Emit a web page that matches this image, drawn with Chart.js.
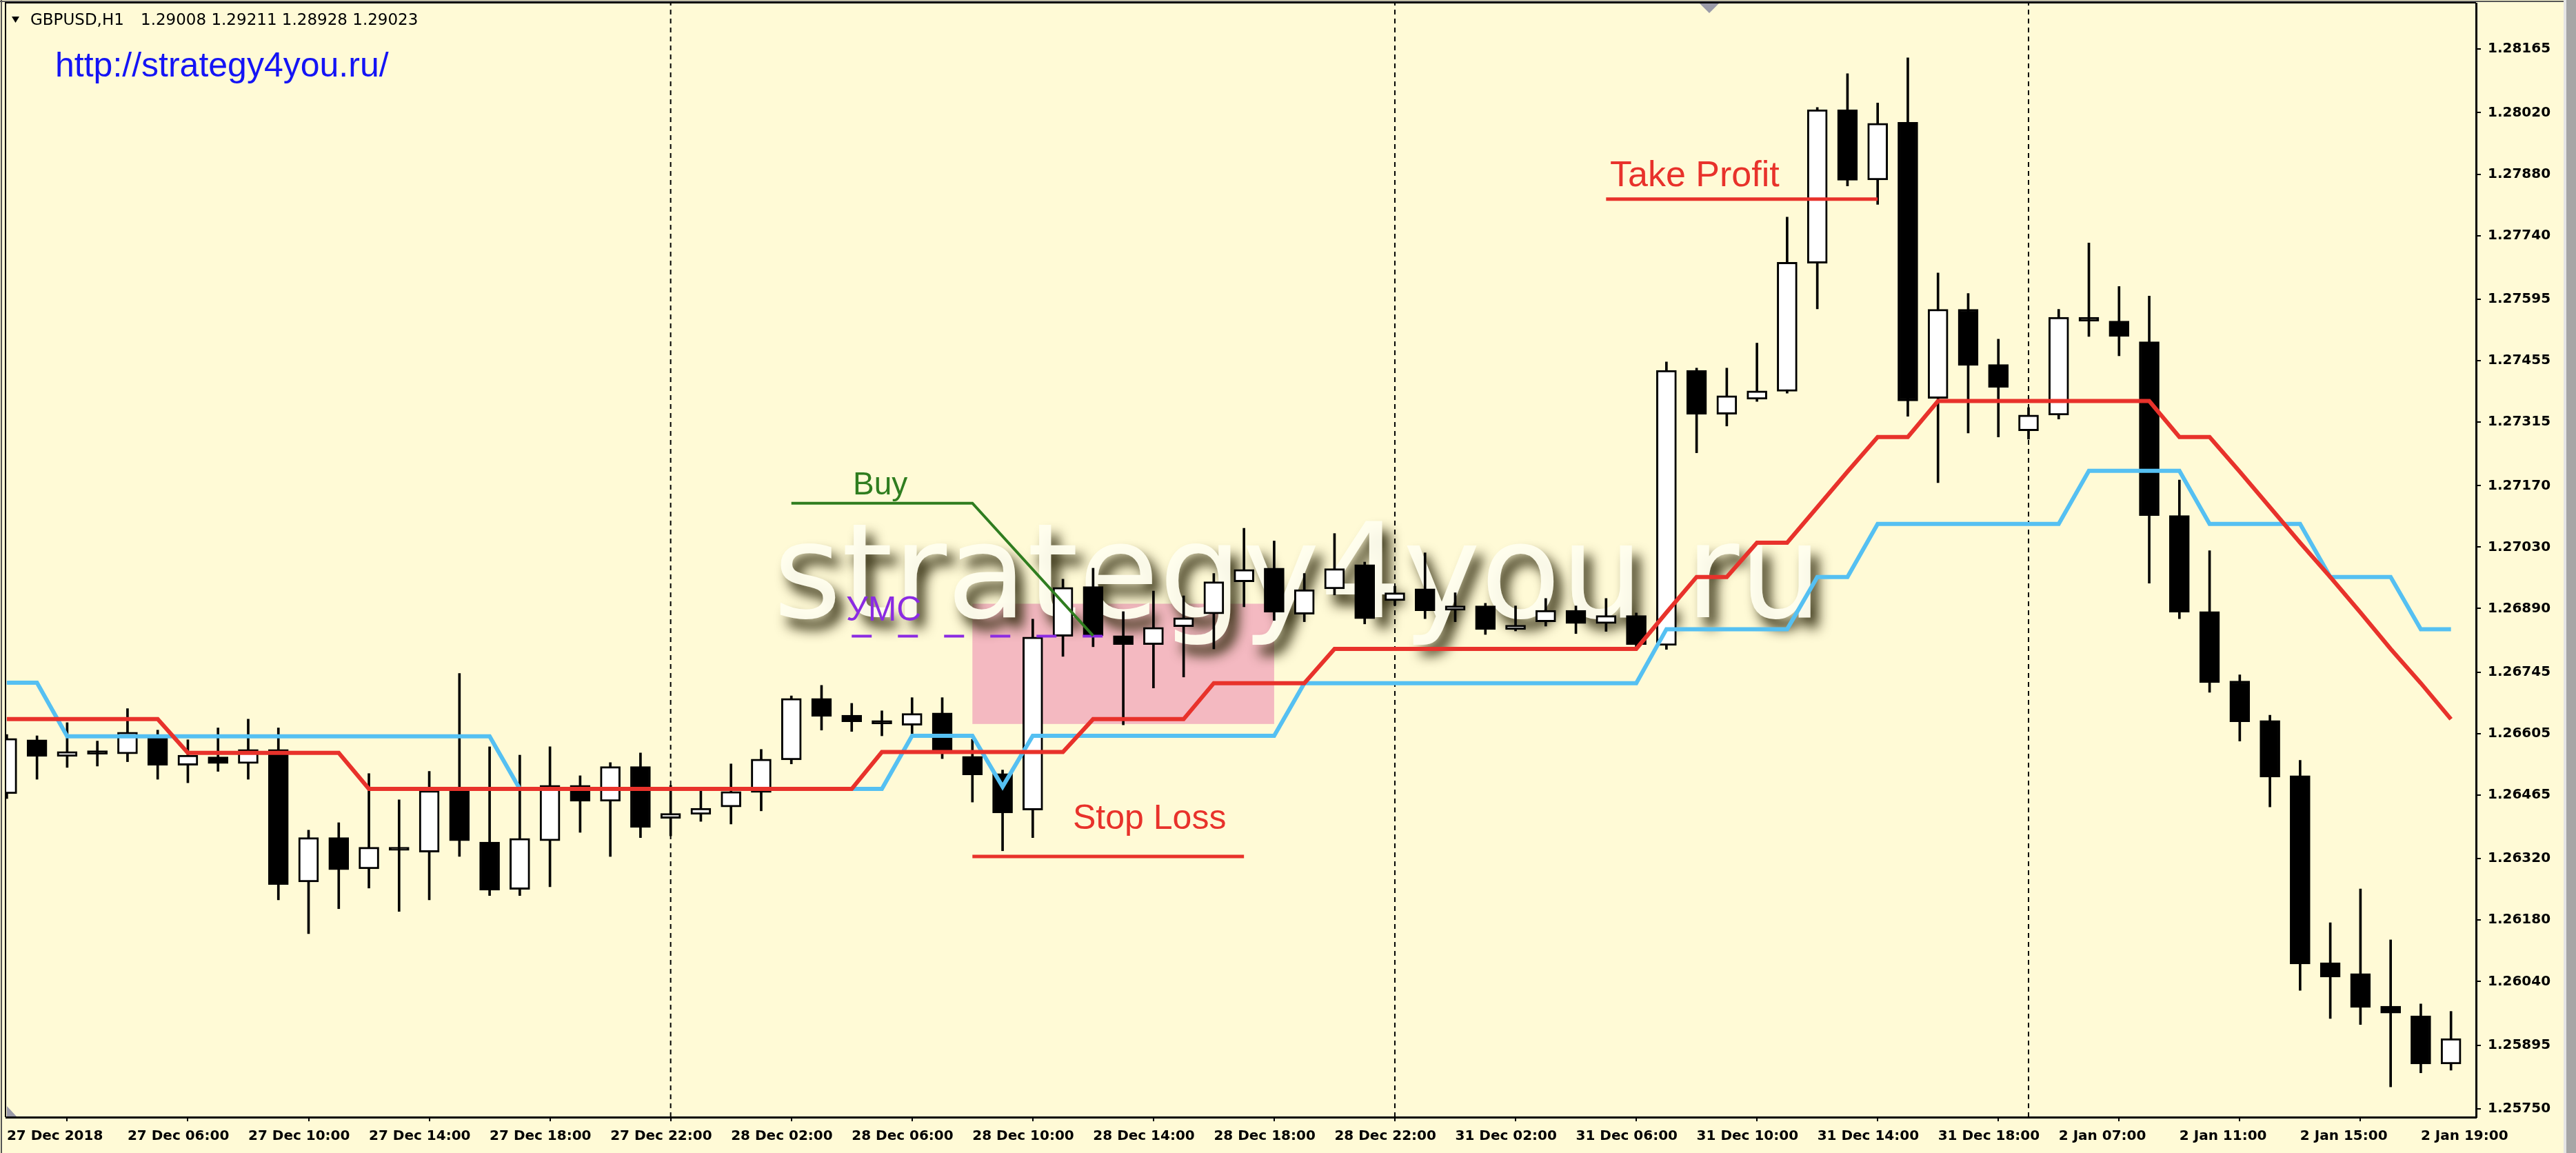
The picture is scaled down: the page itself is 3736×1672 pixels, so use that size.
<!DOCTYPE html>
<html>
<head>
<meta charset="utf-8">
<script src="https://cdn.jsdelivr.net/npm/chart.js@4.4.1/dist/chart.umd.min.js"></script>
<style>
  html, body { margin: 0; padding: 0; background: #fffad6; }
  #wrap { width: 3736px; height: 1672px; }
</style>
</head>
<body>
<div id="wrap"><canvas id="chart"></canvas></div>
<script>
// GBPUSD H1 candles
const opens = [
  1.26468, 1.26591, 1.26553, 1.26566, 1.26559, 1.26599, 1.26533, 1.26552, 1.26537, 1.26569,
  1.26267, 1.26368, 1.26297, 1.26346, 1.26335, 1.26476, 1.26358, 1.26250, 1.26361, 1.26487,
  1.26451, 1.26530, 1.26412, 1.26421, 1.26438, 1.26471, 1.26545, 1.26685, 1.26647, 1.26635,
  1.26624, 1.26652, 1.26553, 1.26514, 1.26431, 1.26827, 1.26940, 1.26828, 1.26808, 1.26849,
  1.26878, 1.26951, 1.26982, 1.26877, 1.26935, 1.26990, 1.26908, 1.26935, 1.26886, 1.26896,
  1.26842, 1.26860, 1.26886, 1.26856, 1.26874, 1.26806, 1.27433, 1.27333, 1.27367, 1.27385,
  1.27677, 1.28027, 1.27867, 1.27998, 1.27369, 1.27572, 1.27446, 1.27295, 1.27331, 1.27554,
  1.27545, 1.27498, 1.27102, 1.26883, 1.26725, 1.26635, 1.26509, 1.26083, 1.26058, 1.25984,
  1.25962, 1.25852
];
const highs = [
  1.26603, 1.26600, 1.26630, 1.26588, 1.26662, 1.26613, 1.26591, 1.26618, 1.26638, 1.26618,
  1.26385, 1.26402, 1.26514, 1.26454, 1.26519, 1.26742, 1.26575, 1.26556, 1.26575, 1.26509,
  1.26539, 1.26561, 1.26487, 1.26475, 1.26536, 1.26569, 1.26691, 1.26715, 1.26674, 1.26657,
  1.26687, 1.26687, 1.26592, 1.26522, 1.26866, 1.26957, 1.26982, 1.26883, 1.26930, 1.26919,
  1.26970, 1.27073, 1.27044, 1.26970, 1.27061, 1.26996, 1.26941, 1.27017, 1.26926, 1.26902,
  1.26896, 1.26913, 1.26896, 1.26913, 1.26880, 1.27452, 1.27438, 1.27438, 1.27495, 1.27782,
  1.28032, 1.28109, 1.28042, 1.28145, 1.27655, 1.27608, 1.27504, 1.27348, 1.27572, 1.27723,
  1.27624, 1.27602, 1.27183, 1.27022, 1.26739, 1.26647, 1.26544, 1.26174, 1.26251, 1.26135,
  1.25989, 1.25972
];
const lows = [
  1.26457, 1.26501, 1.26528, 1.26531, 1.26541, 1.26501, 1.26493, 1.26519, 1.26501, 1.26226,
  1.26149, 1.26206, 1.26253, 1.26200, 1.26226, 1.26325, 1.26236, 1.26236, 1.26256, 1.26380,
  1.26325, 1.26368, 1.26372, 1.26405, 1.26399, 1.26429, 1.26536, 1.26613, 1.26610, 1.26600,
  1.26599, 1.26548, 1.26449, 1.26338, 1.26368, 1.26781, 1.26803, 1.26625, 1.26709, 1.26734,
  1.26798, 1.26894, 1.26863, 1.26860, 1.26921, 1.26855, 1.26897, 1.26867, 1.26860, 1.26831,
  1.26839, 1.26850, 1.26833, 1.26838, 1.26800, 1.26797, 1.27245, 1.27306, 1.27362, 1.27381,
  1.27573, 1.27853, 1.27811, 1.27328, 1.27177, 1.27290, 1.27281, 1.27276, 1.27322, 1.27510,
  1.27466, 1.26948, 1.26867, 1.26699, 1.26588, 1.26438, 1.26020, 1.25956, 1.25942, 1.25800,
  1.25832, 1.25838
];
const closes = [
  1.26594, 1.26553, 1.26564, 1.26558, 1.26608, 1.26533, 1.26556, 1.26537, 1.26569, 1.26261,
  1.26368, 1.26295, 1.26346, 1.26339, 1.26475, 1.26361, 1.26248, 1.26366, 1.26487, 1.26451,
  1.26530, 1.26391, 1.26423, 1.26435, 1.26473, 1.26547, 1.26685, 1.26644, 1.26632, 1.26627,
  1.26651, 1.26566, 1.26511, 1.26424, 1.26825, 1.26938, 1.26828, 1.26808, 1.26847, 1.26869,
  1.26951, 1.26979, 1.26882, 1.26933, 1.26981, 1.26867, 1.26926, 1.26885, 1.26896, 1.26842,
  1.26852, 1.26886, 1.26856, 1.26874, 1.26808, 1.27433, 1.27333, 1.27375, 1.27386, 1.27679,
  1.28027, 1.27866, 1.27996, 1.27363, 1.27572, 1.27444, 1.27394, 1.27331, 1.27554, 1.27545,
  1.27510, 1.27102, 1.26882, 1.26721, 1.26632, 1.26506, 1.26080, 1.26050, 1.25981, 1.25968,
  1.25852, 1.25910
];

// indicator lines (red = slow, blue = fast)
const redLine = [
  1.26638, 1.26638, 1.26638, 1.26638, 1.26638, 1.26638, 1.26561, 1.26561, 1.26561, 1.26561,
  1.26561, 1.26561, 1.26479, 1.26479, 1.26479, 1.26479, 1.26479, 1.26479, 1.26479, 1.26479,
  1.26479, 1.26479, 1.26479, 1.26479, 1.26479, 1.26479, 1.26479, 1.26479, 1.26479, 1.26563,
  1.26563, 1.26563, 1.26563, 1.26563, 1.26563, 1.26563, 1.26638, 1.26638, 1.26638, 1.26638,
  1.26720, 1.26720, 1.26720, 1.26720, 1.26798, 1.26798, 1.26798, 1.26798, 1.26798, 1.26798,
  1.26798, 1.26798, 1.26798, 1.26798, 1.26798, 1.26881, 1.26962, 1.26962, 1.27040, 1.27040,
  1.27121, 1.27202, 1.27281, 1.27281, 1.27363, 1.27363, 1.27363, 1.27363, 1.27363, 1.27363,
  1.27363, 1.27363, 1.27281, 1.27281, 1.27202, 1.27121, 1.27040, 1.26962, 1.26881, 1.26798,
  1.26720, 1.26638
];
const blueLine = [
  1.26721, 1.26721, 1.26599, 1.26599, 1.26599, 1.26599, 1.26599, 1.26599, 1.26599, 1.26599,
  1.26599, 1.26599, 1.26599, 1.26599, 1.26599, 1.26599, 1.26599, 1.26479, 1.26479, 1.26479,
  1.26479, 1.26479, 1.26479, 1.26479, 1.26479, 1.26479, 1.26479, 1.26479, 1.26479, 1.26479,
  1.26600, 1.26600, 1.26600, 1.26484, 1.26600, 1.26600, 1.26600, 1.26600, 1.26600, 1.26600,
  1.26600, 1.26600, 1.26600, 1.26720, 1.26720, 1.26720, 1.26720, 1.26720, 1.26720, 1.26720,
  1.26720, 1.26720, 1.26720, 1.26720, 1.26720, 1.26843, 1.26843, 1.26843, 1.26843, 1.26843,
  1.26962, 1.26962, 1.27083, 1.27083, 1.27083, 1.27083, 1.27083, 1.27083, 1.27083, 1.27204,
  1.27204, 1.27204, 1.27204, 1.27083, 1.27083, 1.27083, 1.27083, 1.26962, 1.26962, 1.26962,
  1.26843, 1.26843
];

const xTickLabels = [
  "27 Dec 2018", "27 Dec 06:00", "27 Dec 10:00", "27 Dec 14:00", "27 Dec 18:00",
  "27 Dec 22:00", "28 Dec 02:00", "28 Dec 06:00", "28 Dec 10:00", "28 Dec 14:00",
  "28 Dec 18:00", "28 Dec 22:00", "31 Dec 02:00", "31 Dec 06:00", "31 Dec 10:00",
  "31 Dec 14:00", "31 Dec 18:00", "2 Jan 07:00", "2 Jan 11:00", "2 Jan 15:00", "2 Jan 19:00"
];
const yTickValues = [
  1.28165, 1.28020, 1.27880, 1.27740, 1.27595, 1.27455, 1.27315, 1.27170, 1.27030,
  1.26890, 1.26745, 1.26605, 1.26465, 1.26320, 1.26180, 1.26040, 1.25895, 1.25750
];

// hand drawn objects on the chart (bar index, price)
const buyLine = [[26, 1.27130], [32, 1.27130], [36, 1.26828]];
const umcLine = [[28, 1.26827], [36.5, 1.26827]];
const stopLossLine = [[32, 1.26325], [41, 1.26325]];
const takeProfitLine = [[53, 1.27823], [62, 1.27823]];
const entryZone = { from: 32, to: 42, low: 1.26627, high: 1.26901 };
const daySeparators = [22, 46, 67];

const X_MIN = -0.02, X_MAX = 81.83;
const Y_MIN = 1.25731, Y_MAX = 1.28269;

const BG = "#fffad6";
const RED = "#e8322b";

const toXY = (pts) => pts.map(([x, y]) => ({ x, y }));
const idx = opens.map((_, i) => i);

const texts = [
  { text: "Buy", x: 28.04, y: 1.27150, color: "#2f7d1f", size: 46 },
  { text: "УМС", x: 27.81, y: 1.26863, color: "#8b2be2", size: 50 },
  { text: "Stop Loss", x: 35.33, y: 1.26388, color: RED, size: 50 },
  { text: "Take Profit", x: 53.13, y: 1.27853, color: RED, size: 52 },
];

const decor = {
  id: "decor",
  beforeDraw(chart) {
    const { ctx, width, height } = chart;
    ctx.save();
    ctx.fillStyle = BG;
    ctx.fillRect(0, 0, width, height);
    ctx.restore();
  },
  beforeDatasetsDraw(chart) {
    const { ctx, chartArea: a, scales: { x, y } } = chart;
    ctx.save();
    ctx.beginPath();
    ctx.rect(a.left, a.top, a.right - a.left, a.bottom - a.top);
    ctx.clip();
    // entry zone
    const x0 = x.getPixelForValue(entryZone.from), x1 = x.getPixelForValue(entryZone.to);
    const y0 = y.getPixelForValue(entryZone.high), y1 = y.getPixelForValue(entryZone.low);
    ctx.fillStyle = "rgb(244,185,193)";
    ctx.fillRect(x0, y0, x1 - x0, y1 - y0);
    // watermark
    ctx.font = '190px "DejaVu Sans"';
    ctx.textBaseline = "alphabetic";
    ctx.shadowColor = "rgba(45,40,10,1)";
    ctx.shadowBlur = 18;
    ctx.shadowOffsetX = 11;
    ctx.shadowOffsetY = 15;
    ctx.fillStyle = "rgba(255,254,238,0.96)";
    ctx.fillText("strategy4you.ru", x.getPixelForValue(25.4), y.getPixelForValue(1.26870));
    ctx.restore();
  },
  afterDatasetsDraw(chart) {
    const { ctx, scales: { x, y } } = chart;
    ctx.save();
    ctx.textBaseline = "alphabetic";
    for (const t of texts) {
      ctx.font = `${t.size}px "Liberation Sans", Arial`;
      ctx.fillStyle = t.color;
      ctx.fillText(t.text, x.getPixelForValue(t.x), y.getPixelForValue(t.y));
    }
    ctx.restore();
  },
  afterDraw(chart) {
    const { ctx, width, height, chartArea: a } = chart;
    ctx.save();
    // window frame
    ctx.fillStyle = "#555";
    ctx.fillRect(1, 0, 2, height);
    ctx.fillRect(0, 1, width, 2);
    ctx.fillStyle = "#000";
    ctx.fillRect(a.left - 2, a.top - 1, 2, a.bottom - a.top + 1);
    ctx.fillRect(a.left - 2, a.top - 2, a.right - a.left + 2, 2);
    // right scroll strip
    ctx.fillStyle = "#e4e4e4";
    ctx.fillRect(3718, 0, 4, height);
    ctx.fillStyle = "#a6a6a6";
    ctx.fillRect(3722, 0, 14, height);
    // header
    ctx.fillStyle = "#000";
    ctx.beginPath();
    ctx.moveTo(17, 24); ctx.lineTo(28, 24); ctx.lineTo(22.5, 33); ctx.closePath();
    ctx.fill();
    ctx.font = '23px "DejaVu Sans"';
    ctx.fillText("GBPUSD,H1", 44, 36);
    ctx.fillText("1.29008 1.29211 1.28928 1.29023", 204, 36);
    ctx.font = '50px "Liberation Sans", Arial';
    ctx.fillStyle = "#1414f5";
    ctx.fillText("http://strategy4you.ru/", 80, 111);
    // shift markers
    ctx.fillStyle = "#9a9aa8";
    ctx.beginPath();
    ctx.moveTo(2465, 5); ctx.lineTo(2493, 5); ctx.lineTo(2479, 19); ctx.closePath();
    ctx.fill();
    ctx.beginPath();
    ctx.moveTo(10, 1604); ctx.lineTo(10, 1619); ctx.lineTo(24, 1619); ctx.closePath();
    ctx.fill();
    ctx.restore();
  },
};

Chart.defaults.font.family = '"DejaVu Sans"';
Chart.defaults.color = "#000";
Chart.defaults.elements.point.radius = 0;
Chart.defaults.elements.point.hoverRadius = 0;
Chart.defaults.elements.line.tension = 0;

const lineSet = (data, color, width, order, extra = {}) => ({
  type: "line", data, borderColor: color, borderWidth: width, fill: false, order, ...extra,
});

// keep axis label padding from pushing the plot area in
const noPad = (axis) => {
  axis.paddingTop = 0; axis.paddingBottom = 0;
  axis.paddingLeft = 0; axis.paddingRight = 0;
};

new Chart(document.getElementById("chart"), {
  type: "bar",
  data: {
    datasets: [
      ...daySeparators.map((d) =>
        lineSet([{ x: d, y: Y_MIN }, { x: d, y: Y_MAX }], "#000", 2, 9, { borderDash: [7, 6] })
      ),
      {
        type: "bar",
        data: idx.map((i) => ({ x: i, y: [lows[i], highs[i]] })),
        backgroundColor: "#000",
        barThickness: 3,
        grouped: false,
        order: 8,
      },
      {
        type: "bar",
        data: idx.map((i) => ({ x: i, y: [opens[i], closes[i]] })),
        backgroundColor: idx.map((i) => (closes[i] >= opens[i] ? "#fff" : "#000")),
        borderColor: "#000",
        borderWidth: 3,
        borderSkipped: false,
        barThickness: 29,
        grouped: false,
        order: 7,
      },
      lineSet(idx.map((i) => ({ x: i, y: blueLine[i] })), "#55c0f2", 6, 5),
      lineSet(idx.map((i) => ({ x: i, y: redLine[i] })), RED, 6, 4),
      lineSet(toXY(buyLine), "#2f7d1f", 4, 3),
      lineSet(toXY(umcLine), "#8b2be2", 4, 3, { borderDash: [29, 38] }),
      lineSet(toXY(stopLossLine), RED, 5, 3),
      lineSet(toXY(takeProfitLine), RED, 5, 3),
    ],
  },
  options: {
    responsive: true,
    maintainAspectRatio: false,
    devicePixelRatio: 1,
    animation: false,
    events: [],
    layout: { padding: { left: 9, top: 5, right: 0, bottom: 0 } },
    plugins: { legend: { display: false }, tooltip: { enabled: false } },
    scales: {
      x: {
        type: "linear",
        min: X_MIN,
        max: X_MAX,
        offset: false,
        afterBuildTicks: (axis) => {
          axis.ticks = xTickLabels.map((_, k) => ({ value: k * 4 }));
        },
        afterFit: (axis) => { axis.height = 52; noPad(axis); },
        ticks: {
          autoSkip: false,
          maxRotation: 0,
          minRotation: 0,
          align: "start",
          padding: 10,
          font: { size: 20, weight: "bold" },
          callback: (v) => xTickLabels[Math.round(v / 4)],
        },
        grid: { drawOnChartArea: false, drawTicks: true, tickLength: 6, color: "#000", lineWidth: 2 },
        border: { display: true, color: "#000", width: 3 },
      },
      y: {
        type: "linear",
        position: "right",
        min: Y_MIN,
        max: Y_MAX,
        beginAtZero: false,
        afterBuildTicks: (axis) => {
          axis.ticks = yTickValues.map((v) => ({ value: v }));
        },
        afterFit: (axis) => { axis.width = 145; noPad(axis); },
        ticks: {
          padding: 10,
          font: { size: 20, weight: "bold" },
          callback: (v) => v.toFixed(5),
        },
        grid: { drawOnChartArea: false, drawTicks: true, tickLength: 7, color: "#000", lineWidth: 2 },
        border: { display: true, color: "#000", width: 3 },
      },
    },
  },
  plugins: [decor],
});
</script>
</body>
</html>
